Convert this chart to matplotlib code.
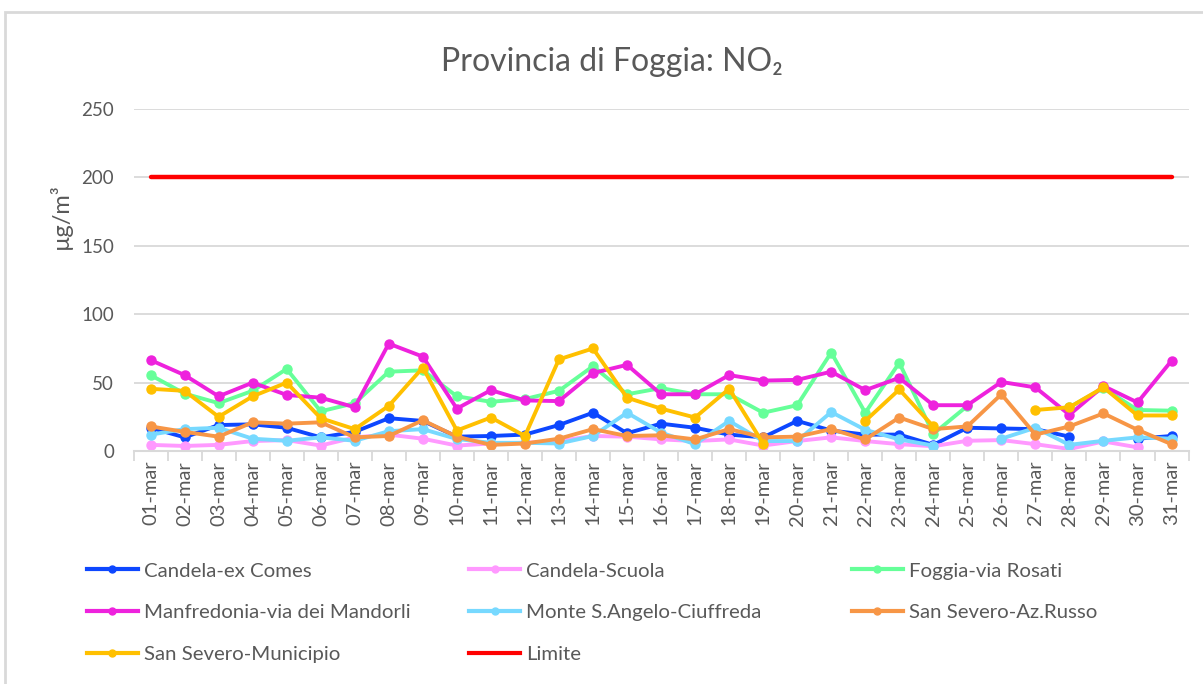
import numpy as np
import matplotlib.pyplot as plt
from matplotlib.lines import Line2D
from matplotlib.patches import Rectangle

nan = np.nan

days = ["%02d-mar" % d for d in range(1, 32)]

candela_ex_comes = [17, 10, 19, 19.5, 17, 10, 14, 24, 22, 10.5, 11, 12, 19, 28, 13, 20,
                    17, 12, 10, 22, 15, 12, 12, 4.5, 17, 16.5, 16, 10.5, nan, 9, 11]
candela_scuola = [4.5, 3.7, 4.5, 7.3, 8, 4, 10, 12, 9, 4, 5.5, 6, 7.3, 11, 10.5, 8.5,
                  7.3, 8.5, 4, 7.3, 10, 7.3, 5, 3.5, 7.5, 8, 5, 1.5, 7, 2.7, nan]
foggia_rosati = [55.5, 42, 35, 44, 60, 29, 35, 58, 59, 40, 36, 38, 44, 62, 41.5, 46,
                 41.5, 41.5, 28, 33.5, 72, 28, 64.5, 12.5, 33, nan, nan, 32, 46, 30, 29.5]
manfredonia = [66.5, 55.5, 40, 50, 41, 39, 32, 78.5, 69, 31, 44.5, 37, 36.5, 57, 63, 41.5,
               41.5, 55.5, 51.5, 52, 58, 44.5, 53.5, 33.5, 33.5, 50.5, 46.5, 26.5, 47.5, 35.5, 66]
monte_angelo = [12, 16, 17, 9, 7.5, 10, 7.5, 14.5, 16, 8.8, 6, 6, 5.5, 11, 28, 13.5,
                5, 22, 7.3, 7.3, 28.5, 15.5, 8.5, 4, nan, 9, 17, 4.5, 7.5, 10, 9]
sansevero_russo = [18, 14, 10.5, 21, 20, 21, 10, 11, 22.5, 10.5, 4.5, 5.5, 9, 16, 11, 11.5,
                   8.5, 16, 10, 10.5, 16, 8.5, 24.5, 16, 18, 41.5, 12, 18, 27.5, 15.5, 5]
sansevero_municipio = [45.5, 44, 25, 40, 50, 24, 16, 33, 61, 15, 24.5, 11, 67, 75, 39, 31,
                       24.5, 45.5, 5.5, nan, nan, 22, 45, 18, nan, nan, 30, 32, 46.5, 26, 26]
limite = [200] * 31

series = [
    ("Candela-ex Comes", candela_ex_comes, "#0D47FF"),
    ("Candela-Scuola", candela_scuola, "#FF99FF"),
    ("Foggia-via Rosati", foggia_rosati, "#66FF99"),
    ("Manfredonia-via dei Mandorli", manfredonia, "#EE22DD"),
    ("Monte S.Angelo-Ciuffreda", monte_angelo, "#77D9FF"),
    ("San Severo-Az.Russo", sansevero_russo, "#F79646"),
    ("San Severo-Municipio", sansevero_municipio, "#FFC000"),
]

plt.rcParams['font.family'] = ['Lato', 'DejaVu Sans']
txt = "#595959"
grid = "#D9D9D9"

fig = plt.figure(figsize=(12.03, 6.84), dpi=100)
ax = fig.add_axes([0.111, 0.3406, 0.877, 0.5])

x = np.arange(len(days))
handles = []
for name, vals, col in series:
    h, = ax.plot(x, vals, color=col, lw=2.8, marker="o", ms=6.5, label=name,
                 solid_capstyle="round", solid_joinstyle="round")
    handles.append(h)
h, = ax.plot(x, limite, color="#FF0000", lw=3.2, label="Limite", solid_capstyle="round")
handles.append(h)

ax.set_xlim(-0.5, len(days) - 0.5)
ax.set_ylim(0, 250)
ax.set_yticks(range(0, 251, 50))
ax.grid(axis="y", color=grid, lw=1.3)
ax.set_axisbelow(True)
for s in ["top", "right", "left"]:
    ax.spines[s].set_visible(False)
ax.spines["bottom"].set_color(grid)
ax.spines["bottom"].set_linewidth(1.5)

ax.set_xticks(x)
ax.set_xticklabels(days, rotation=90)
ax.set_xticks(np.arange(-0.5, len(days), 1), minor=True)
ax.tick_params(axis="x", which="major", length=0, pad=7, labelsize=14.5, labelcolor=txt)
ax.tick_params(axis="x", which="minor", length=7, width=1.3, color=grid)
ax.tick_params(axis="y", length=0, pad=14, labelsize=13.5, labelcolor=txt)

fig.text(0.509, 0.909, "Provincia di Foggia: NO₂", ha="center", va="center",
         fontsize=23, color=txt)
fig.text(0.05, 1 - 216 / 684, "µg/m³", rotation=90, ha="center", va="center",
         fontsize=17, color=txt)

# border of the chart area
fig.patches.append(Rectangle((5 / 1203, -0.1), 1.2, 1.1 - 12 / 684, transform=fig.transFigure,
                             fill=False, edgecolor=grid, lw=2))

cols = [[0, 3, 6], [1, 4, 7], [2, 5]]
xs = [0.0723, 0.390, 0.708]
for idx, xpos in zip(cols, xs):
    hs = []
    for i in idx:
        h = handles[i]
        hs.append(Line2D([], [], color=h.get_color(), lw=3,
                         marker="o" if i < 7 else None, ms=5, label=h.get_label()))
    fig.legend(handles=hs, loc="upper left", bbox_to_anchor=(xpos, 0.178), frameon=False,
               borderpad=0, borderaxespad=0, fontsize=14.7, labelcolor=txt,
               handlelength=2.5, handletextpad=0.3, labelspacing=1.2)

fig.savefig("out.png", dpi=100)
